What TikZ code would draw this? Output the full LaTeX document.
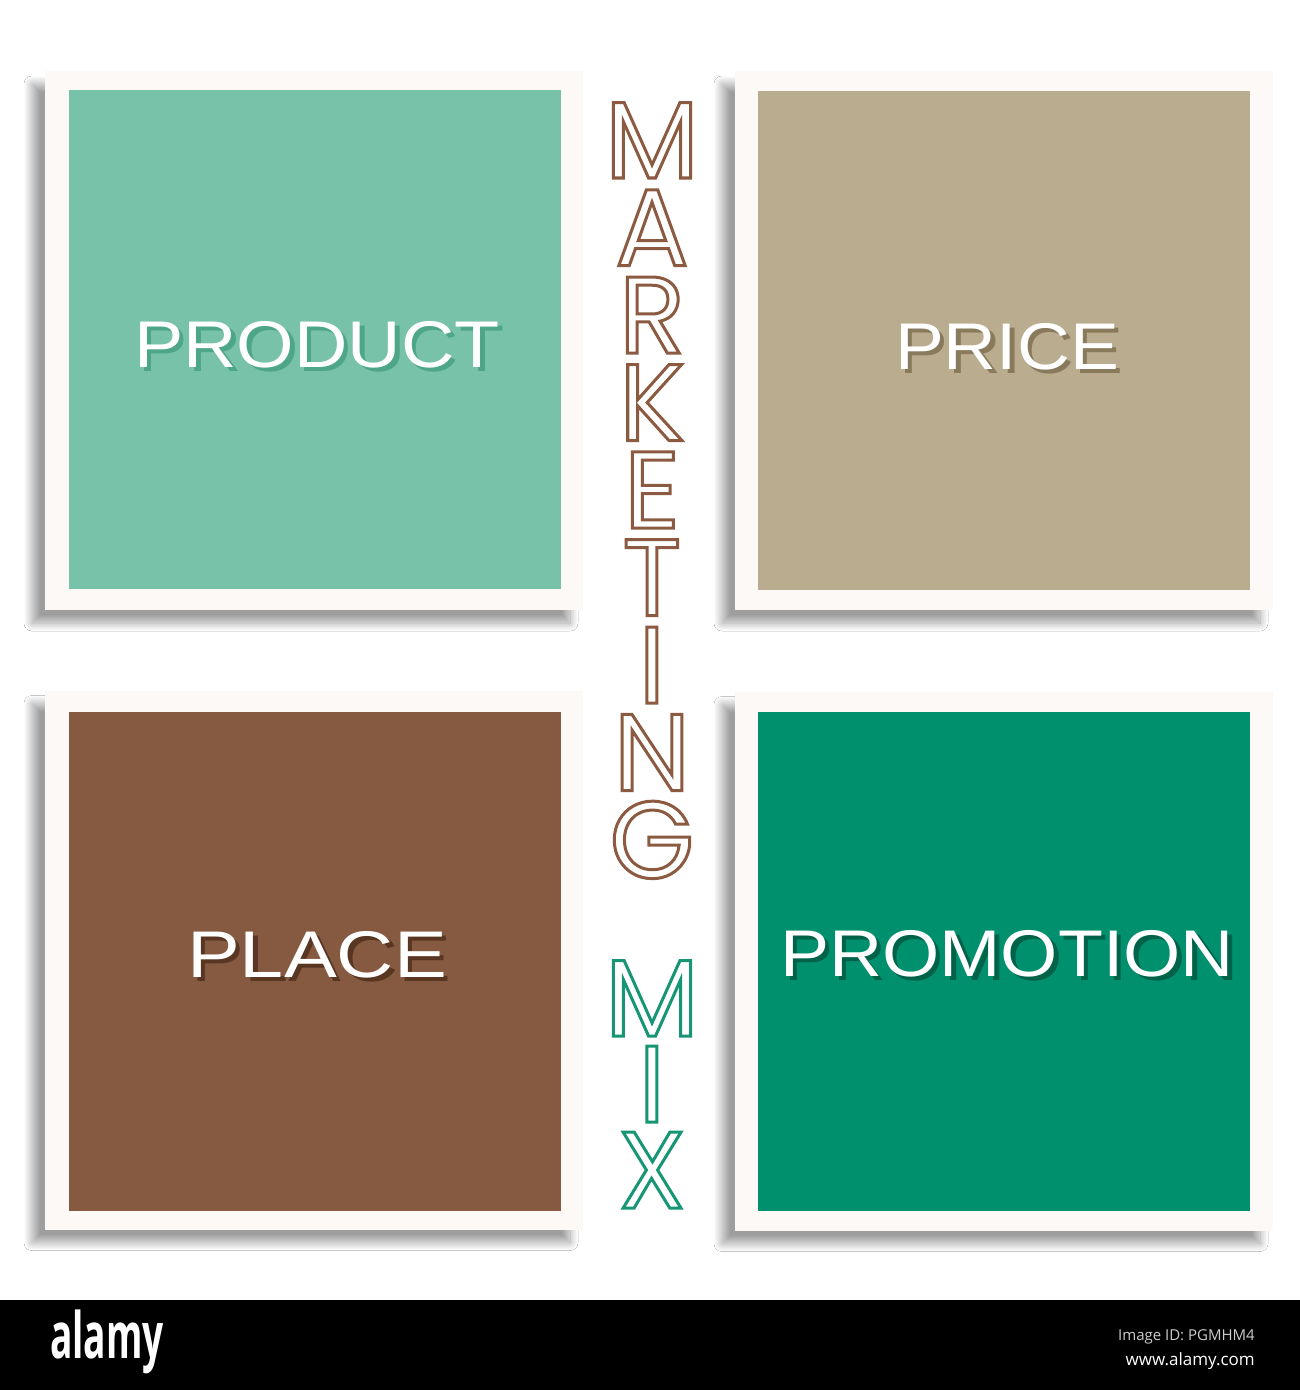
\documentclass[tikz,border=0pt]{standalone}
\usepackage{fontspec}
\usepackage{tikz}
\usetikzlibrary{positioning,shadows.blur}
\newfontfamily\lblfont{Liberation Sans}
\newfontfamily\mkfont{Poppins}
\newfontfamily\logofont{Open Sans}
\definecolor{framecol}{RGB}{253,249,246}
\definecolor{prodcol}{RGB}{120,194,169}
\definecolor{prodsh}{RGB}{78,166,136}
\definecolor{pricecol}{RGB}{186,172,142}
\definecolor{pricesh}{RGB}{138,122,92}
\definecolor{placecol}{RGB}{133,90,64}
\definecolor{placesh}{RGB}{88,54,34}
\definecolor{promocol}{RGB}{1,144,110}
\definecolor{promosh}{RGB}{0,98,72}
\definecolor{mkbrown}{RGB}{139,90,64}
\definecolor{mxgreen}{RGB}{22,150,116}
% outlined glyphs (stroke only)
\newcommand{\outl}[1]{\special{pdf:literal direct 1 Tr 3 w}#1\special{pdf:literal direct 0 Tr}}
% white text over a darker copy shifted down-right
\newcommand{\shtext}[3]{\scalebox{#1}[1]{\makebox[0pt][l]{\hspace{4pt}\raisebox{-4pt}{\color{#2}#3}}\color{white}#3}}

\begin{document}
\begin{tikzpicture}[
    x=1pt, y=-1pt,
    nosep/.style={inner sep=0},
    frame/.style={rectangle, nosep, fill=framecol, minimum width=538pt, minimum height=539pt,
        blur shadow={shadow xshift=-13pt, shadow yshift=-13pt, shadow blur radius=8pt,
        shadow blur steps=16, shadow opacity=38}},
    box/.style={rectangle, nosep, minimum width=492pt, minimum height=499pt},
    lbl/.style={nosep, font=\lblfont\fontsize{66}{66}\selectfont},
    mk/.style={nosep, anchor=base, text=mkbrown, text height=78pt, text depth=0pt,
        font=\mkfont\fontsize{109}{109}\selectfont}]
\useasboundingbox[fill=white] (0,0) rectangle (1300,1390);

\node (prodframe)  [frame] at (314,340.5) {};
\node (priceframe) [frame] at (1004,340.5) {};
\node (placeframe) [frame] at (314,960) {};
\node (promoframe) [frame] at (1004,961) {};

\node (prod)  [box, fill=prodcol]  at (315,339) {};
\node (price) [box, fill=pricecol] at (1003.5,340.5) {};
\node (place) [box, fill=placecol] at (315,961) {};
\node (promo) [box, fill=promocol] at (1003.5,961) {};

% labels
\node (prodtx)  [lbl] at (317,347) {\shtext{1.12}{prodsh}{PRODUCT}};
\node (pricetx) [lbl] at (1007,349) {\shtext{1.11}{pricesh}{PRICE}};
\node (placetx) [lbl] at (317,957) {\shtext{1.2}{placesh}{PLACE}};
\node (promotx) [lbl] at (1007,956) {\shtext{1.115}{promosh}{PROMOTION}};

% vertical title
\foreach \ch [count=\i from 0] in {M,A,R,K,E,T,I,N,G}
  \node (mk\i) [mk] at (652,178+87.5*\i) {\outl{\ch}};
\foreach \ch [count=\i from 0] in {M,I,X}
  \node (mx\i) [mk, text=mxgreen] at (652,1036+86*\i) {\outl{\ch}};

% footer bar
\fill[black] (0,1300) rectangle (1300,1390);
\node (logo) [nosep, anchor=west, text=white, font=\logofont\bfseries\fontsize{64}{64}\selectfont]
  at (50,1342) {\scalebox{0.58}[1]{alamy}};
\node (imgid) [nosep, anchor=base east, text=white!80!black, font=\logofont\fontsize{15}{15}\selectfont]
  at (1255,1340) {Image ID: PGMHM4};
\node (www) [nosep, anchor=base east, text=white, font=\logofont\fontsize{17}{17}\selectfont]
  at (1255,1365) {www.alamy.com};
\end{tikzpicture}
\end{document}
